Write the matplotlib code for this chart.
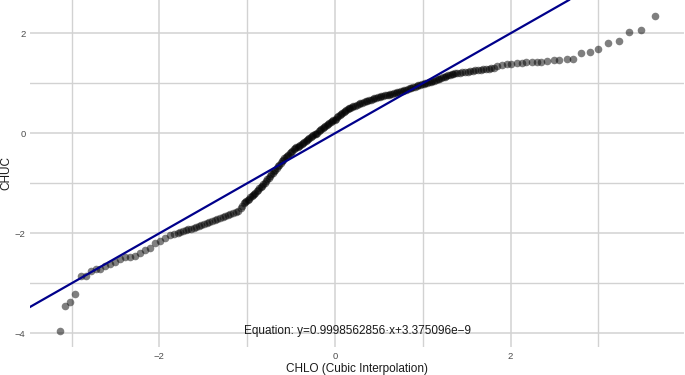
import matplotlib
matplotlib.use("Agg")
import matplotlib.pyplot as plt
import matplotlib.transforms as mtransforms

plt.rcParams['font.family'] = ['Liberation Sans', 'DejaVu Sans']

# Sorted quantiles: CHLO (Cubic Interpolation) on x, CHUC on y
x_left = [-3.13, -3.075, -3.015, -2.955, -2.897, -2.84, -2.78, -2.725, -2.676, -2.62,
          -2.56, -2.505, -2.45, -2.39, -2.335, -2.28, -2.22, -2.164, -2.107, -2.05,
          -1.99, -1.935, -1.88, -1.83, -1.79]
y_left = [-3.95, -3.45, -3.37, -3.21, -2.86, -2.86, -2.75, -2.71, -2.71, -2.65,
          -2.61, -2.57, -2.52, -2.48, -2.48, -2.45, -2.39, -2.33, -2.29, -2.20,
          -2.15, -2.09, -2.04, -2.02, -2.00]

x_lower = [-1.76, -1.73, -1.70, -1.67, -1.64, -1.61, -1.58, -1.55, -1.52, -1.49,
           -1.46, -1.43, -1.40, -1.37, -1.34, -1.31, -1.28, -1.25, -1.22, -1.19,
           -1.16, -1.13, -1.10, -1.07]
y_lower = [-1.98, -1.96, -1.94, -1.92, -1.905, -1.89, -1.87, -1.855, -1.84, -1.815,
           -1.795, -1.775, -1.755, -1.735, -1.71, -1.69, -1.675, -1.66, -1.64, -1.62,
           -1.595, -1.57, -1.55, -1.50]

x_mid = [-1.055, -1.04, -1.025, -1.01, -0.995, -0.98, -0.965, -0.95, -0.935, -0.92,
         -0.905, -0.89, -0.875, -0.86, -0.845, -0.83, -0.815, -0.80, -0.785, -0.77,
         -0.755, -0.74, -0.725, -0.71, -0.695, -0.68, -0.665, -0.65, -0.635, -0.62,
         -0.605, -0.59, -0.575, -0.56, -0.545, -0.53, -0.515, -0.50, -0.485, -0.47,
         -0.455, -0.44, -0.425, -0.41, -0.395, -0.38, -0.365, -0.35, -0.335, -0.32,
         -0.305, -0.29, -0.275, -0.26, -0.245, -0.23, -0.215, -0.20, -0.185, -0.17,
         -0.155, -0.14, -0.125, -0.11, -0.095, -0.08, -0.065, -0.05, -0.035, -0.02,
         -0.005, 0.01, 0.025, 0.04, 0.055, 0.07, 0.085, 0.10, 0.115, 0.13,
         0.145, 0.16, 0.175, 0.19]
y_mid = [-1.45, -1.40, -1.38, -1.35, -1.33, -1.31, -1.28, -1.26, -1.24, -1.21,
         -1.19, -1.16, -1.13, -1.10, -1.08, -1.05, -1.02, -0.99, -0.95, -0.92,
         -0.89, -0.86, -0.82, -0.79, -0.76, -0.73, -0.69, -0.66, -0.63, -0.60,
         -0.56, -0.53, -0.50, -0.48, -0.45, -0.43, -0.40, -0.37, -0.35, -0.32,
         -0.30, -0.28, -0.27, -0.25, -0.23, -0.21, -0.19, -0.17, -0.15, -0.13,
         -0.11, -0.09, -0.08, -0.06, -0.04, -0.02, -0.01, 0.01, 0.04, 0.06,
         0.08, 0.10, 0.13, 0.15, 0.17, 0.19, 0.20, 0.22, 0.24, 0.26,
         0.27, 0.29, 0.32, 0.34, 0.36, 0.38, 0.40, 0.42, 0.44, 0.46,
         0.48, 0.50, 0.51, 0.52]

x_upper = [0.21, 0.23, 0.25, 0.27, 0.29, 0.31, 0.33, 0.35, 0.37, 0.39,
           0.41, 0.43, 0.45, 0.47, 0.49, 0.51, 0.53, 0.55, 0.57, 0.59,
           0.61, 0.63, 0.65, 0.67, 0.69, 0.71, 0.73, 0.75, 0.77, 0.79,
           0.81, 0.83, 0.85, 0.87, 0.89, 0.91, 0.93, 0.95, 0.97, 0.99,
           1.01, 1.03, 1.05, 1.07, 1.09, 1.11, 1.13, 1.15, 1.17, 1.19,
           1.21, 1.23, 1.25, 1.27, 1.29, 1.31, 1.33, 1.35, 1.37, 1.39]
y_upper = [0.54, 0.55, 0.57, 0.58, 0.60, 0.61, 0.63, 0.64, 0.65, 0.66,
           0.67, 0.68, 0.70, 0.71, 0.72, 0.73, 0.74, 0.75, 0.76, 0.76,
           0.77, 0.78, 0.79, 0.80, 0.81, 0.82, 0.83, 0.84, 0.85, 0.86,
           0.87, 0.89, 0.90, 0.91, 0.92, 0.93, 0.94, 0.96, 0.97, 0.98,
           0.99, 1.00, 1.01, 1.02, 1.03, 1.04, 1.05, 1.06, 1.08, 1.09,
           1.10, 1.12, 1.13, 1.14, 1.16, 1.17, 1.18, 1.19, 1.20, 1.21]

x_right = [1.42, 1.45, 1.48, 1.51, 1.54, 1.57, 1.60, 1.63, 1.66, 1.69,
           1.72, 1.75, 1.78, 1.81, 1.845, 1.90, 1.96, 2.01, 2.07, 2.126,
           2.18, 2.24, 2.30, 2.35, 2.42, 2.49, 2.555, 2.64, 2.71, 2.80,
           2.90, 3.00, 3.11, 3.23, 3.35, 3.49, 3.64]
y_right = [1.21, 1.22, 1.23, 1.23, 1.24, 1.25, 1.26, 1.26, 1.27, 1.28,
           1.29, 1.29, 1.30, 1.31, 1.35, 1.37, 1.38, 1.39, 1.40, 1.41,
           1.42, 1.43, 1.43, 1.43, 1.45, 1.46, 1.46, 1.49, 1.49, 1.61,
           1.62, 1.69, 1.80, 1.85, 2.02, 2.07, 2.35]

# Fitted line
slope = 0.9998562856
intercept = 3.375096e-9
equation = "Equation: y=0.9998562856\u00b7x+3.375096e\u22129"

x_vals = x_left + x_lower + x_mid + x_upper + x_right
y_vals = y_left + y_lower + y_mid + y_upper + y_right

W, H = 685, 375
fig = plt.figure(figsize=(W / 100, H / 100), dpi=100)
ax_l, ax_r, ax_t, ax_b = 30.4, 684.3, 0.0, 346.6
ax = fig.add_axes([ax_l / W, 1 - ax_b / H, (ax_r - ax_l) / W, (ax_b - ax_t) / H])

ax.scatter(x_vals, y_vals, s=30, color='black', alpha=0.5, linewidths=0, zorder=2)
ax.margins(0.05)
ax.axline((0, intercept), slope=slope, color='#00008B', lw=1.6, zorder=3)

ax.set_xticks([-2, 0, 2])
ax.set_yticks([-4, -2, 0, 2])
ax.set_xticks([-3, -1, 1, 3], minor=True)
ax.set_yticks([-3, -1, 1], minor=True)
ax.grid(True, which='major', color='#d2d2d2', lw=1.1, zorder=0)
ax.grid(True, which='minor', color='#d2d2d2', lw=1.0, zorder=0)
ax.set_axisbelow(True)
ax.tick_params(which='both', length=0, labelsize=6.8, labelcolor='#4d4d4d', pad=3.6)
for s in ax.spines.values():
    s.set_visible(False)

ax.set_xlabel("CHLO (Cubic Interpolation)", fontsize=8.5, color='#1a1a1a')
ax.set_ylabel("CHUC", fontsize=8.5, color='#1a1a1a')
ax.xaxis.set_label_coords(0.5, -(369.3 - ax_b) / (ax_b - ax_t))
ax.xaxis.label.set_va('center')
ax.yaxis.set_label_coords(-(ax_l - 6.5) / (ax_r - ax_l), 0.5)
ax.yaxis.label.set_va('center')

trans = mtransforms.blended_transform_factory(ax.transAxes, ax.transData)
ax.text(0.5, min(y_vals), equation, transform=trans, ha='center', va='center',
        fontsize=8.5, color='#1a1a1a', zorder=4)

fig.savefig("out.png", dpi=100)
